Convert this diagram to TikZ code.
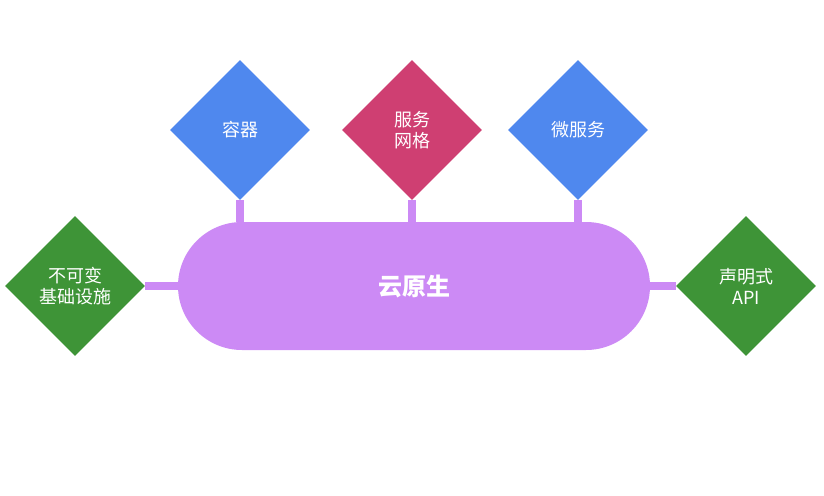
\documentclass[tikz,border=0pt]{standalone}
\usepackage{fontspec}
\setmainfont{Noto Sans CJK SC}
\usetikzlibrary{shapes.geometric}
\definecolor{pill}{HTML}{CC8AF5}
\definecolor{bl}{HTML}{4F88EE}
\definecolor{rd}{HTML}{CF3F72}
\definecolor{gr}{HTML}{3E9437}
\tikzset{
  dia/.style={diamond,aspect=1,minimum size=140pt,inner sep=0pt,text=white,font=\fontsize{18pt}{21pt}\selectfont,align=center},
  link/.style={draw=pill,line width=8pt}
}
\begin{document}
\begin{tikzpicture}[x=1pt,y=-1pt]
\useasboundingbox (0,0) rectangle (824,495);
\node[fill=pill,rounded corners=64pt,minimum width=472pt,minimum height=128pt,inner sep=0pt,text=white,font=\fontsize{24pt}{28pt}\selectfont\bfseries] (core) at (414,286) {云原生};
\node[dia,fill=bl] (c) at (240,130) {容器};
\node[dia,fill=rd] (m) at (412,130) {服务\\网格};
\node[dia,fill=bl] (w) at (578,130) {微服务};
\node[dia,fill=gr] (l) at (75,286) {不可变\\基础设施};
\node[dia,fill=gr] (r) at (746,286) {声明式\\API};
\draw[link] (c.south) -- (c.south |- core.north);
\draw[link] (m.south) -- (m.south |- core.north);
\draw[link] (w.south) -- (w.south |- core.north);
\draw[link] (l.east) -- (core.west);
\draw[link] (core.east) -- (r.west);
\end{tikzpicture}
\end{document}
